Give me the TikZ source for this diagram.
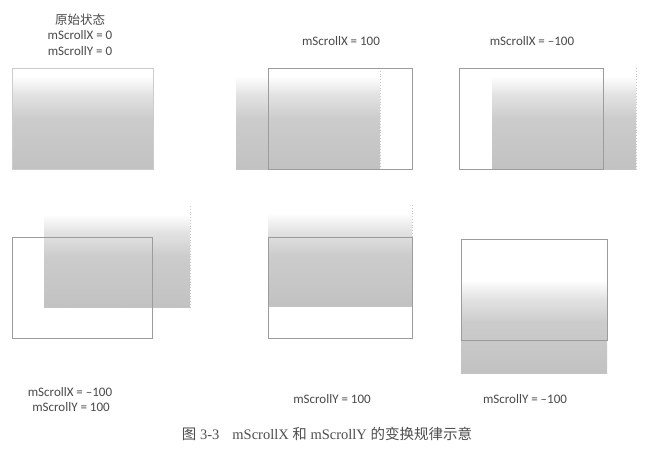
\documentclass[tikz,border=0pt]{standalone}
\usepackage{fontspec}
\setmainfont{Liberation Serif}
\newfontfamily\labfont{Carlito}
\newfontfamily\cjkfont{Noto Sans CJK SC}
\definecolor{labgray}{HTML}{4A4A4A}
\definecolor{framegray}{HTML}{9C9C9C}
\definecolor{capgray}{HTML}{4E4E4E}
\pgfdeclareverticalshading{scrollgrad}{100bp}{color(0bp)=(black!24); color(25bp)=(black!24); color(50bp)=(black!20); color(62bp)=(black!11); color(71bp)=(white); color(100bp)=(white)}
\tikzset{
  content/.style={shading=scrollgrad, minimum width=144pt, minimum height=101pt, inner sep=0pt, outer sep=0pt, anchor=north west},
  frame/.style={draw=framegray, line width=0.7pt, minimum width=144pt, minimum height=101pt, inner sep=0pt, outer sep=0pt, anchor=north west},
  edgeline/.style={draw=black!22, dotted, line width=0.8pt},
  lab/.style={font=\labfont\fontsize{13}{14}\selectfont, text=labgray, inner sep=0pt},
  cjklab/.style={font=\cjkfont\fontsize{12.5}{14}\selectfont, text=labgray, inner sep=0pt},
  captext/.style={font=\fontsize{14.5}{16}\selectfont, text=capgray, inner sep=0pt},
}
\begin{document}
\begin{tikzpicture}[x=1pt, y=-1pt]
\useasboundingbox[fill=white] (0,0) rectangle (651,459);

% panel 1: original
\node[content, minimum width=141pt] (c1) at (12,68) {};
\node[frame, draw=black!20, minimum width=141pt] (f1) at (12,68) {};
\node[cjklab] (t1a) at (80,20) {原始状态};
\node[lab] (t1b) at (80,35) {mScrollX = 0};
\node[lab] (t1c) at (80,51) {mScrollY = 0};

% panel 2: mScrollX = 100
\node[content] (c2) at (236,68) {};
\draw[edgeline] (c2.north east) -- (c2.south east) -- (c2.south west);
\node[frame] (f2) at (268,68) {};
\node[lab] (t2) at (341,41) {mScrollX = 100};

% panel 3: mScrollX = -100
\node[content] (c3) at (492,68) {};
\draw[edgeline] (c3.north east) -- (c3.south east) -- (c3.south west);
\node[frame] (f3) at (459,68) {};
\node[lab] (t3) at (532,41) {mScrollX = –100};

% panel 4: mScrollX = -100, mScrollY = 100
\node[content, minimum width=146pt] (c4) at (44,206) {};
\draw[edgeline] (c4.north east) -- (c4.south east) -- (c4.south west);
\node[frame, minimum width=140pt] (f4) at (12,237) {};
\node[lab] (t4a) at (70,392) {mScrollX = –100};
\node[lab] (t4b) at (71,407) {mScrollY = 100};

% panel 5: mScrollY = 100
\node[content] (c5) at (268,205) {};
\draw[edgeline] (c5.north east) -- (c5.south east) -- (c5.south west);
\node[frame] (f5) at (268,237) {};
\node[lab] (t5) at (332,399) {mScrollY = 100};

% panel 6: mScrollY = -100
\node[content, minimum width=146pt] (c6) at (461,272) {};
\draw[edgeline] (c6.south east) -- (c6.south west);
\node[frame, minimum width=146pt] (f6) at (461,239) {};
\node[lab] (t6) at (525,399) {mScrollY = –100};

% caption
\node[captext] (cap) at (327,434) {{\cjkfont 图} 3-3\hspace{0.9em}mScrollX {\cjkfont 和} mScrollY {\cjkfont 的变换规律示意}};
\end{tikzpicture}
\end{document}
